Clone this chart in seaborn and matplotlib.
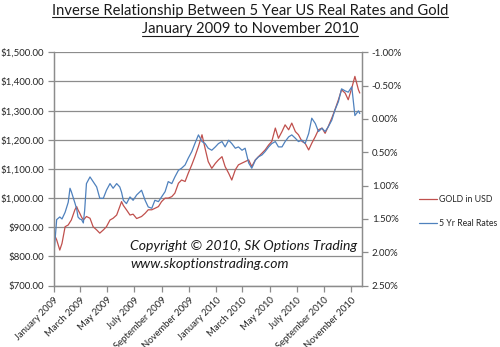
import matplotlib
matplotlib.use("Agg")
import matplotlib.pyplot as plt
import matplotlib.dates as mdates
from matplotlib.lines import Line2D
from matplotlib.ticker import FuncFormatter
import seaborn as sns
import pandas as pd

# Weekly samples, Jan 2009 - Nov 2010
dates = [
    "2009-01-02", "2009-01-07", "2009-01-14", "2009-01-19", "2009-01-26",
    "2009-02-02", "2009-02-06", "2009-02-09", "2009-02-17", "2009-02-21",
    "2009-02-24", "2009-02-28", "2009-03-04", "2009-03-08", "2009-03-11",
    "2009-03-15", "2009-03-23", "2009-03-30", "2009-04-07", "2009-04-14",
    "2009-04-22", "2009-04-29", "2009-05-07", "2009-05-14", "2009-05-22",
    "2009-05-29", "2009-06-02", "2009-06-06", "2009-06-13", "2009-06-21",
    "2009-06-28", "2009-07-06", "2009-07-17", "2009-07-25", "2009-08-01",
    "2009-08-09", "2009-08-16", "2009-08-24", "2009-08-31", "2009-09-08",
    "2009-09-15", "2009-09-23", "2009-09-30", "2009-10-08", "2009-10-15",
    "2009-10-23", "2009-10-30", "2009-11-07", "2009-11-14", "2009-11-22",
    "2009-11-30", "2009-12-07", "2009-12-14", "2009-12-22", "2009-12-30",
    "2010-01-06", "2010-01-14", "2010-01-21", "2010-01-29", "2010-02-05",
    "2010-02-13", "2010-02-20", "2010-02-28", "2010-03-07", "2010-03-15",
    "2010-03-22", "2010-03-30", "2010-04-06", "2010-04-14", "2010-04-21",
    "2010-04-29", "2010-05-06", "2010-05-14", "2010-05-21", "2010-05-29",
    "2010-06-05", "2010-06-13", "2010-06-20", "2010-06-28", "2010-07-05",
    "2010-07-13", "2010-07-20", "2010-07-28", "2010-08-04", "2010-08-12",
    "2010-08-19", "2010-08-27", "2010-09-03", "2010-09-10", "2010-09-18",
    "2010-09-25", "2010-10-03", "2010-10-10", "2010-10-18", "2010-10-25",
    "2010-11-02", "2010-11-09", "2010-11-17", "2010-11-20",
]

gold_usd = [
    874, 857, 822, 845, 902, 908, 918, 925, 960, 971,
    960, 948, 935, 925, 930, 937, 931, 902, 891, 880,
    891, 902, 925, 931, 942, 971, 988, 975, 960, 942,
    945, 930, 937, 948, 960, 960, 965, 971, 988, 1000,
    1000, 1005, 1017, 1051, 1062, 1057, 1085, 1114, 1142, 1177,
    1217, 1170, 1125, 1102, 1119, 1131, 1142, 1108, 1085, 1062,
    1097, 1114, 1120, 1125, 1131, 1108, 1131, 1142, 1154, 1165,
    1182, 1194, 1240, 1205, 1228, 1251, 1234, 1257, 1228, 1217,
    1194, 1188, 1165, 1188, 1211, 1234, 1240, 1222, 1245, 1274,
    1302, 1337, 1371, 1360, 1337, 1377, 1417, 1371, 1360,
]

real_rate_5yr = [
    1.93, 1.51, 1.47, 1.50, 1.40, 1.25, 1.04, 1.09, 1.26, 1.35,
    1.47, 1.50, 1.51, 1.56, 1.37, 0.97, 0.87, 0.94, 1.02, 1.19,
    1.19, 1.07, 0.97, 1.04, 0.97, 1.02, 1.10, 1.22, 1.27, 1.17,
    1.22, 1.14, 1.07, 1.22, 1.32, 1.34, 1.22, 1.24, 1.17, 1.09,
    0.94, 0.97, 0.87, 0.77, 0.74, 0.69, 0.59, 0.49, 0.37, 0.24,
    0.34, 0.37, 0.44, 0.47, 0.42, 0.37, 0.34, 0.42, 0.32, 0.37,
    0.44, 0.42, 0.47, 0.44, 0.66, 0.74, 0.62, 0.57, 0.54, 0.49,
    0.42, 0.37, 0.34, 0.42, 0.42, 0.34, 0.27, 0.24, 0.29, 0.34,
    0.32, 0.37, 0.22, -0.01, 0.07, 0.19, 0.14, 0.19, 0.12, 0.02,
    -0.13, -0.26, -0.45, -0.42, -0.40, -0.48, -0.05, -0.12, -0.08,
]

gold_ticks = [700, 800, 900, 1000, 1100, 1200, 1300, 1400, 1500]
rate_ticks = [-1.0, -0.5, 0.0, 0.5, 1.0, 1.5, 2.0, 2.5]

title_lines = [
    "Inverse Relationship Between 5 Year US Real Rates and Gold",
    "January 2009 to November 2010",
]

RED = "#C0504D"
BLUE = "#4F81BD"
AXIS_GRAY = "#8C8C8C"
TEXT = "#262626"

sns.set_theme(style="white")
plt.rcParams["font.family"] = ["Lato", "DejaVu Sans"]

df = pd.DataFrame({
    "date": pd.to_datetime(dates),
    "gold": gold_usd,
    "rate": real_rate_5yr,
})

fig = plt.figure(figsize=(5.0, 3.47), dpi=100)
ax = fig.add_axes([0.108, 0.1767, 0.616, 0.673])
ax2 = ax.twinx()

sns.lineplot(data=df, x="date", y="gold", ax=ax, color=RED, lw=0.9,
             legend=False)
sns.lineplot(data=df, x="date", y="rate", ax=ax2, color=BLUE, lw=0.9,
             legend=False)

# primary axis: gold price
ax.set_ylim(700, 1500)
ax.set_yticks(gold_ticks)
ax.yaxis.set_major_formatter(FuncFormatter(lambda v, p: f"${v:,.2f}"))
ax.grid(axis="y", color=AXIS_GRAY, lw=0.9)
ax.grid(axis="x", visible=False)
ax.set_xlabel("")
ax.set_ylabel("")

# secondary axis: real rates, inverted
ax2.set_ylim(2.5, -1.0)
ax2.set_yticks(rate_ticks)
ax2.yaxis.set_major_formatter(FuncFormatter(lambda v, p: f"{v:.2f}%"))
ax2.set_ylabel("")
ax2.grid(False)

ax.set_xlim(pd.Timestamp("2009-01-01"), pd.Timestamp("2010-11-25"))
ax.xaxis.set_major_locator(mdates.MonthLocator(bymonth=[1, 3, 5, 7, 9, 11]))
ax.xaxis.set_major_formatter(mdates.DateFormatter("%B %Y"))

for a in (ax, ax2):
    for side, sp in a.spines.items():
        sp.set_color(AXIS_GRAY)
        sp.set_linewidth(0.9)
    a.spines["top"].set_visible(False)

ax.tick_params(axis="both", which="major", direction="out", length=4,
               width=0.9, color=AXIS_GRAY, labelcolor=TEXT, pad=3)
ax.tick_params(axis="y", left=True, right=False, labelsize=7)
ax.tick_params(axis="x", bottom=True, labelsize=6.8, pad=3)
ax2.tick_params(axis="y", direction="out", length=4, width=0.9,
                color=AXIS_GRAY, labelsize=7, labelcolor=TEXT, pad=3,
                right=True)

for lab in ax.get_xticklabels():
    lab.set_rotation(45)
    lab.set_ha("right")
    lab.set_va("top")
    lab.set_rotation_mode("anchor")

# legend outside the plot area
handles = [Line2D([], [], color=RED, lw=0.9),
           Line2D([], [], color=BLUE, lw=0.9)]
fig.legend(handles, ["GOLD in USD", "5 Yr Real Rates"], loc="center left",
           bbox_to_anchor=(0.826, 1 - 211.5 / 347), frameon=False,
           fontsize=6.3, handlelength=2.0, handletextpad=0.25,
           labelspacing=1.65, labelcolor=TEXT, borderpad=0.2)

# copyright notice inside the plot area
fig.text(0.26, 1 - 246 / 347, "Copyright \u00a9 2010, SK Options Trading",
         fontsize=10.1, style="italic", color="#1a1a1a", va="center")
fig.text(0.26, 1 - 264 / 347, "www.skoptionstrading.com",
         fontsize=10.1, style="italic", color="#1a1a1a", va="center")

# underlined two-line title
title_texts = [
    fig.text(0.5, 1 - 10.5 / 347, title_lines[0], ha="center", va="center",
             fontsize=10.6, color="#1a1a1a"),
    fig.text(0.5, 1 - 29.5 / 347, title_lines[1], ha="center", va="center",
             fontsize=10.6, color="#1a1a1a"),
]
fig.canvas.draw()
renderer = fig.canvas.get_renderer()
W, H = fig.get_size_inches() * fig.dpi
for t, uy in zip(title_texts, [17.0, 35.5]):
    bb = t.get_window_extent(renderer)
    fig.add_artist(Line2D([bb.x0 / W, bb.x1 / W], [1 - uy / H, 1 - uy / H],
                          transform=fig.transFigure, color="#1a1a1a",
                          lw=0.8))

fig.savefig("out.png", dpi=100)
